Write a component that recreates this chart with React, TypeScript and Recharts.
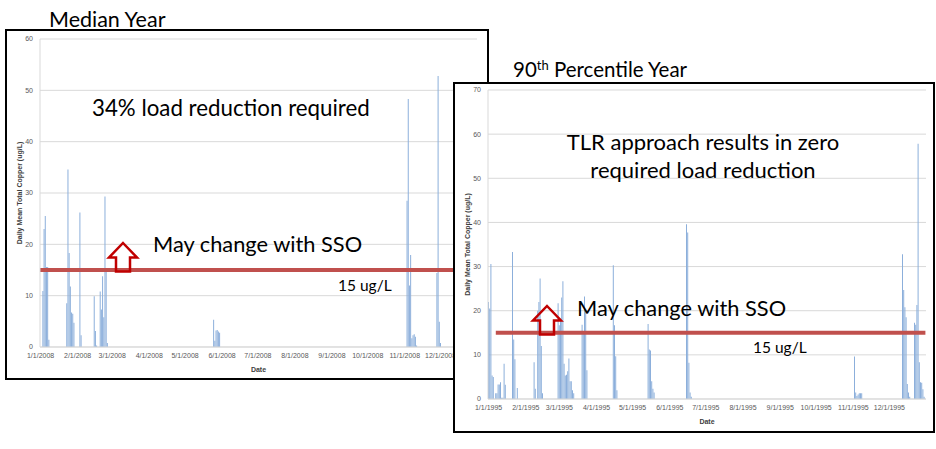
import React from 'react';
import { BarChart, Bar, XAxis, YAxis, CartesianGrid, ReferenceLine } from 'recharts';

// Median year (2008, leap year) - days with runoff, day 0 = 1/1/2008
const medianDays = [
  2, 3, 4, 5, 6, 7,
  22, 23, 24, 25, 26, 27, 28,
  33, 34,
  45, 46, 47,
  50, 51, 52, 53, 54, 55, 56,
  145, 146, 147, 148, 149, 150,
  307, 308, 309, 310, 311, 312, 313, 314, 315,
  332, 333, 334, 335,
];
const medianCopper = [
  10.9, 23, 25.5, 15.6, 15.6, 1.4,
  8.5, 34.6, 18.3, 11.8, 6.7, 6.5, 4.7,
  26.2, 2.3,
  9.9, 3.1, 0.3,
  10.8, 7.3, 13.8, 5.8, 29.3, 15, 0.8,
  5.3, 1.2, 3.2, 3.3, 3, 2.8,
  28.5, 48.3, 12, 17.9, 1.7, 2.3, 2.5, 2, 0.3,
  14.4, 52.8, 4.9, 0.8,
];
const medianTickDays = [0, 31, 60, 91, 121, 152, 182, 213, 244, 274, 305, 335];
const medianTickLabels = [
  '1/1/2008', '2/1/2008', '3/1/2008', '4/1/2008', '5/1/2008', '6/1/2008',
  '7/1/2008', '8/1/2008', '9/1/2008', '10/1/2008', '11/1/2008', '12/1/2008',
];
const medianYTicks = [0, 10, 20, 30, 40, 50, 60];

// 90th percentile year (1995)
const pctDays = [
  0, 1, 2, 3, 4, 6, 7, 8, 9, 10, 11, 12, 13, 14,
  20, 21, 22, 24,
  38, 39, 41, 42, 43, 44, 45,
  58, 59, 60, 61, 62, 63, 64, 65, 66, 67, 68, 69, 70, 71,
  78, 79, 80, 81, 82,
  104, 105, 106, 107,
  133, 134, 135, 136, 137, 138,
  165, 166, 167, 168, 169,
  305, 306, 307, 308, 309, 310, 311,
  345, 346, 347, 348, 349, 350, 351,
  355, 356, 357, 358, 359, 360, 361, 362, 363,
];
const pctCopper = [
  22, 20.5, 30.6, 5.3, 5, 1.3, 1.3, 3.3, 3.3, 3.8, 0.3, 0.3, 8, 3.2,
  33.3, 13.5, 9, 2.5,
  8.3, 2.3, 20, 22, 27.3, 12, 1.3,
  21.7, 16.7, 18, 23, 26.7, 8, 5.3, 5.5, 6.3, 9.2, 4, 4, 2, 1.3,
  16.8, 15, 23.2, 20, 6.5,
  30.3, 16.7, 9.7, 2,
  17, 11.2, 11, 4, 2.3, 1.5,
  39.6, 37.7, 8.2, 1.5, 0.5,
  9.6, 1.5, 0.7, 1, 1.3, 1.3, 1.3,
  32.8, 24.7, 20.8, 18.5, 3.4, 1.5, 0.5,
  17.3, 16.8, 21.3, 57.8, 8.3, 3.8, 3.7, 2.2, 0.5,
];
const pctTickDays = [0, 31, 59, 90, 120, 151, 181, 212, 243, 273, 304, 334];
const pctTickLabels = [
  '1/1/1995', '2/1/1995', '3/1/1995', '4/1/1995', '5/1/1995', '6/1/1995',
  '7/1/1995', '8/1/1995', '9/1/1995', '10/1/1995', '11/1/1995', '12/1/1995',
];
const pctYTicks = [0, 10, 20, 30, 40, 50, 60, 70];

const criterion = 15;

const buildDaily = (count: number, days: number[], values: number[]) =>
  Array.from({ length: count }, (_, d) => {
    const i = days.indexOf(d);
    return { day: d, copper: i >= 0 ? values[i] : 0 };
  });

const tickStyle = { fontSize: 7, fill: '#595959', fontFamily: 'Liberation Sans' };
const axisLabel = { fontSize: 7, fontWeight: 'bold', fill: '#404040', fontFamily: 'Liberation Sans' };

type ChartProps = {
  data: { day: number; copper: number }[];
  tickDays: number[];
  tickLabels: string[];
  yTicks: number[];
  width: number;
  height: number;
  margin: { top: number; right: number; bottom: number; left: number };
  segment?: [number, number];
};

const CopperChart = ({ data, tickDays, tickLabels, yTicks, width, height, margin, segment }: ChartProps) => (
  <BarChart width={width} height={height} data={data} margin={margin} barCategoryGap={0}>
    <CartesianGrid vertical={false} stroke="#d9d9d9" />
    <XAxis
      dataKey="day"
      type="category"
      interval={0}
      tickLine={false}
      tickSize={4}
      tickMargin={2}
      height={25}
      axisLine={{ stroke: '#d9d9d9' }}
      tick={tickStyle}
      tickFormatter={(d: number) => {
        const i = tickDays.indexOf(d);
        return i >= 0 ? tickLabels[i] : '';
      }}
      label={{ value: 'Date', position: 'insideBottom', offset: 0, ...axisLabel }}
    />
    <YAxis
      width={40}
      domain={[0, yTicks[yTicks.length - 1]]}
      ticks={yTicks}
      tickLine={false}
      tickSize={5}
      tickMargin={2}
      axisLine={{ stroke: '#d9d9d9' }}
      tick={tickStyle}
      label={{ value: 'Daily Mean Total Copper (ug/L)', angle: -90, position: 'center', ...axisLabel }}
    />
    <Bar dataKey="copper" fill="#8cafdb" isAnimationActive={false} />
    {segment ? (
      <ReferenceLine
        segment={[{ x: segment[0], y: criterion }, { x: segment[1], y: criterion }]}
        stroke="#c0504d"
        strokeWidth={4}
      />
    ) : (
      <ReferenceLine y={criterion} stroke="#c0504d" strokeWidth={4} />
    )}
  </BarChart>
);

const Arrow = ({ x, y }: { x: number; y: number }) => (
  <polygon
    points={`${x},${y} ${x + 14},${y + 14.5} ${x + 7},${y + 14.5} ${x + 7},${y + 28.5} ${x - 7},${y + 28.5} ${x - 7},${y + 14.5} ${x - 14},${y + 14.5}`}
    fill="none"
    stroke="#c00000"
    strokeWidth={2.5}
  />
);

export default function App() {
  const medianData = buildDaily(366, medianDays, medianCopper);
  const pctData = buildDaily(365, pctDays, pctCopper);
  const txt = { fontFamily: 'Lato', fill: '#000' };

  return (
    <div style={{ position: 'absolute', left: 0, top: 0, width: 936, height: 449, background: '#fff', overflow: 'hidden' }}>
      <div style={{ position: 'absolute', left: 5, top: 29, width: 480, height: 347, border: '2px solid #000' }} />
      <div style={{ position: 'absolute', left: 0, top: 0 }}>
        <CopperChart
          data={medianData}
          tickDays={medianTickDays}
          tickLabels={medianTickLabels}
          yTicks={medianYTicks}
          width={490}
          height={380}
          margin={{ top: 39, right: 13, bottom: 8, left: 0 }}
        />
      </div>
      <div style={{ position: 'absolute', left: 453, top: 82, width: 478, height: 347, border: '2px solid #000', background: '#fff' }} />
      <div style={{ position: 'absolute', left: 448, top: 0 }}>
        <CopperChart
          data={pctData}
          tickDays={pctTickDays}
          tickLabels={pctTickLabels}
          yTicks={pctYTicks}
          width={488}
          height={440}
          margin={{ top: 90, right: 10, bottom: 16, left: 0 }}
          segment={[6, 364]}
        />
      </div>
      <svg width={936} height={449} style={{ position: 'absolute', left: 0, top: 0, pointerEvents: 'none' }}>
        <text x={49} y={27} fontSize={21.5} {...txt}>Median Year</text>
        <text x={513} y={77} fontSize={20.5} {...txt}>
          90<tspan fontSize={13} dy={-7}>th</tspan><tspan dy={7}> Percentile Year</tspan>
        </text>
        <text x={92} y={116} fontSize={22.3} {...txt}>34% load reduction required</text>
        <text x={153} y={252} fontSize={21.8} {...txt}>May change with SSO</text>
        <text x={338} y={291} fontSize={15.5} {...txt}>15 ug/L</text>
        <Arrow x={123} y={243} />
        <text x={703} y={150} fontSize={22} textAnchor="middle" {...txt}>TLR approach results in zero</text>
        <text x={703} y={178} fontSize={22} textAnchor="middle" {...txt}>required load reduction</text>
        <text x={577} y={316} fontSize={21.8} {...txt}>May change with SSO</text>
        <text x={753} y={353} fontSize={15.5} {...txt}>15 ug/L</text>
        <Arrow x={547} y={306} />
      </svg>
    </div>
  );
}
